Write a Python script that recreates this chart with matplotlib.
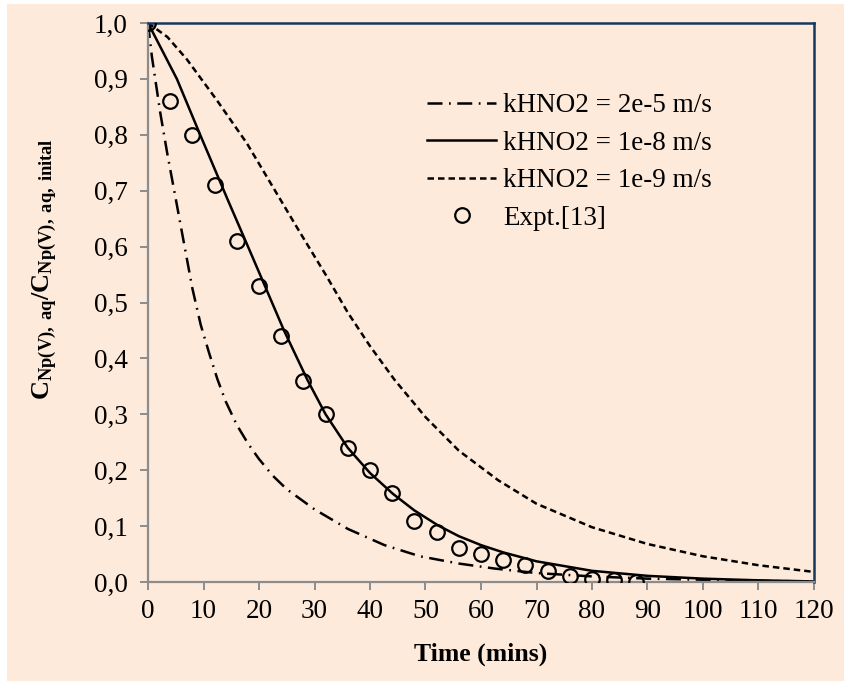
import matplotlib
matplotlib.use("Agg")
import matplotlib.pyplot as plt
from matplotlib.patches import Rectangle
from matplotlib.ticker import FuncFormatter

# ---- data ----
t_fast = [0, 0.7, 2.2, 3.5, 5.1, 6.5, 8.0, 9.5, 11.0, 12.5, 14.0, 16.0, 18.0, 20.0, 22.5,
          25.0, 30.0, 36.0, 42.6, 49.0, 56.0, 62.5, 70, 80, 90, 100, 110, 120]
c_fast = [1.0, 0.94, 0.84, 0.765, 0.68, 0.605, 0.525, 0.46, 0.41, 0.363, 0.323, 0.281,
          0.248, 0.22, 0.19, 0.166, 0.13, 0.095, 0.066, 0.046, 0.033, 0.024, 0.016, 0.010,
          0.006, 0.004, 0.002, 0.001]

t_mid = [0, 2.5, 5.2, 9.4, 14.4, 17.8, 20.4, 24.5, 28.8, 32, 36, 40, 44.1, 48, 52.3, 56,
         60, 64, 70, 80, 90, 100, 110, 120]
c_mid = [1.0, 0.952, 0.9, 0.8, 0.683, 0.605, 0.545, 0.45, 0.36, 0.30, 0.24, 0.195, 0.158,
         0.128, 0.101, 0.082, 0.066, 0.053, 0.037, 0.020, 0.011, 0.006, 0.003, 0.001]

t_slow = [0, 3.5, 7.0, 12.4, 17.8, 22.6, 27.4, 32, 36, 40, 44.4, 50, 56, 63.1, 70, 80, 90,
          100, 110, 120]
c_slow = [1.0, 0.975, 0.935, 0.862, 0.785, 0.705, 0.625, 0.55, 0.482, 0.422, 0.362, 0.295,
          0.235, 0.182, 0.14, 0.098, 0.068, 0.046, 0.03, 0.018]

t_exp = [0, 4, 8, 12, 16, 20, 24, 28, 32, 36, 40, 44, 48, 52, 56, 60, 64, 68, 72, 76, 80, 84, 88]
c_exp = [1.0, 0.86, 0.80, 0.71, 0.61, 0.53, 0.44, 0.36, 0.30, 0.24, 0.20, 0.16, 0.11, 0.09,
         0.06, 0.05, 0.04, 0.03, 0.02, 0.01, 0.005, 0.003, 0.0]

labels = ["kHNO2 = 2e-5 m/s", "kHNO2 = 1e-8 m/s", "kHNO2 = 1e-9 m/s", "Expt.[13]"]
x_ticks = list(range(0, 121, 10))
y_ticks = [i / 10 for i in range(11)]

# ---- style ----
plt.rcParams['font.family'] = ['Liberation Serif', 'DejaVu Serif']
plt.rcParams['mathtext.fontset'] = 'custom'
plt.rcParams['mathtext.rm'] = 'Liberation Serif'
plt.rcParams['mathtext.it'] = 'Liberation Serif:italic'
plt.rcParams['mathtext.bf'] = 'Liberation Serif:bold'

peach = '#FDEADA'
fig = plt.figure(figsize=(8.45, 6.81), dpi=100)
fig.patch.set_facecolor('white')
fig.patches.append(Rectangle((7 / 845, 0.5 / 681), 838 / 845, 676.5 / 681,
                             transform=fig.transFigure, facecolor=peach,
                             edgecolor='none', zorder=-10))

ax = fig.add_axes([148 / 845, 1 - 582 / 681, 666 / 845, 559 / 681])
ax.set_facecolor(peach)

lw = 1.8
ax.plot(t_fast, c_fast, color='black', lw=lw, linestyle=(0, (6, 2.6, 0.7, 2.6)), label=labels[0])
ax.plot(t_mid, c_mid, color='black', lw=lw, linestyle='-', label=labels[1])
ax.plot(t_slow, c_slow, color='black', lw=lw, linestyle=(0, (2.6, 1.6)), label=labels[2])
ax.plot(t_exp, c_exp, linestyle='none', marker='o', markersize=10.5, markerfacecolor='none',
        markeredgecolor='black', markeredgewidth=1.6, label=labels[3], zorder=5)

ax.set_xlim(0, 120)
ax.set_ylim(0, 1.0)
ax.set_xticks(x_ticks)
ax.set_yticks(y_ticks)
ax.yaxis.set_major_formatter(FuncFormatter(lambda v, p: f"{v:.1f}".replace('.', ',')))

for side in ['left', 'bottom']:
    ax.spines[side].set_color('#8C8C8C')
    ax.spines[side].set_linewidth(1.6)
for side in ['top', 'right']:
    ax.spines[side].set_color('#17375E')
    ax.spines[side].set_linewidth(1.8)

ax.tick_params(axis='both', direction='out', length=6, width=1.4, color='#8C8C8C',
               labelsize=19.5, labelcolor='black')
ax.tick_params(axis='x', pad=6)
ax.tick_params(axis='y', pad=8.5)

ax.set_xlabel('Time (mins)', fontsize=18.5, fontweight='bold')
ax.xaxis.set_label_coords(0.5, -0.108)
ax.set_ylabel(r'$\mathbf{C_{Np(V),\ aq}/C_{Np(V),\ aq,\ inital}}$', fontsize=19)
ax.yaxis.set_label_coords(-0.134, 0.56)

leg = ax.legend(loc='upper left', bbox_to_anchor=(0.419, 0.874), frameon=False,
                fontsize=19.5, handlelength=2.55, handletextpad=0.26, labelspacing=0.46,
                borderpad=0, borderaxespad=0, numpoints=1)

fig.savefig('out.png', dpi=100, facecolor=fig.get_facecolor())
